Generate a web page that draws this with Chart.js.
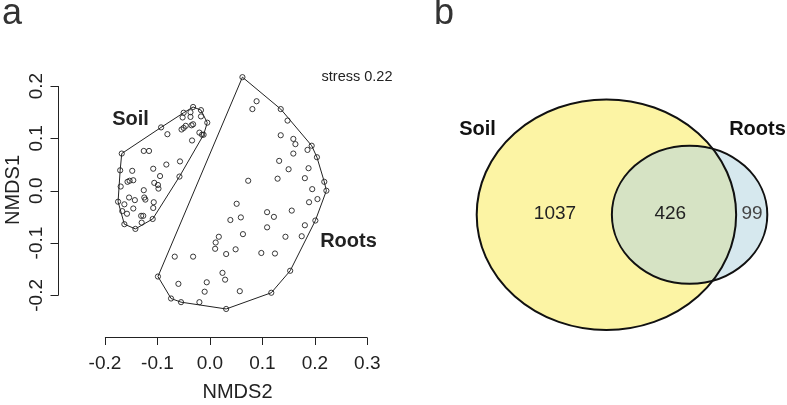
<!DOCTYPE html>
<html><head><meta charset="utf-8">
<script src="https://cdn.jsdelivr.net/npm/chart.js@4.4.1/dist/chart.umd.min.js"></script>
<style>
html,body{margin:0;padding:0;background:#fff;}
#wrap{position:relative;width:787px;height:405px;overflow:hidden;background:#fff;}
canvas{position:absolute;top:0;}
#ca{left:0;} #cb{left:430px;}
</style></head><body>
<div id="wrap"><canvas id="ca" width="430" height="405"></canvas><canvas id="cb" width="357" height="405"></canvas></div>
<script>
// ---- Panel a: NMDS ordination ----
const soilX = [-0.032,-0.050,-0.017,-0.037,-0.052,-0.037,-0.017,-0.005,-0.050,-0.046,-0.035,-0.032,-0.054,-0.020,-0.015,-0.012,-0.034,-0.081,-0.093,-0.126,-0.116,-0.168,-0.148,-0.171,-0.108,-0.083,-0.057,-0.058,-0.095,-0.106,-0.099,-0.098,-0.157,-0.153,-0.146,-0.170,-0.126,-0.125,-0.123,-0.154,-0.143,-0.175,-0.163,-0.146,-0.167,-0.158,-0.107,-0.108,-0.131,-0.127,-0.109,-0.130,-0.163,-0.142];
const soilY = [0.160,0.149,0.154,0.150,0.140,0.141,0.142,0.130,0.120,0.124,0.125,0.127,0.117,0.111,0.107,0.107,0.096,0.108,0.121,0.076,0.076,0.071,0.038,0.039,0.042,0.050,0.056,0.027,0.028,0.015,0.011,0.004,0.017,0.019,0.020,0.008,0.001,-0.013,-0.017,-0.013,-0.018,-0.021,-0.026,-0.034,-0.039,-0.044,-0.022,-0.033,-0.048,-0.048,-0.054,-0.061,-0.064,-0.073];
const rootsX = [0.062,0.089,0.081,0.135,0.148,0.135,0.159,0.163,0.194,0.186,0.159,0.204,0.132,0.150,0.188,0.073,0.129,0.181,0.218,0.222,0.195,0.205,0.189,0.051,0.156,0.109,0.122,0.059,0.039,0.201,0.181,0.109,0.063,0.144,0.175,0.017,0.011,0.010,0.049,0.031,0.098,0.124,-0.067,-0.032,0.153,-0.099,0.024,0.029,-0.060,-0.006,-0.010,0.057,0.117,-0.074,-0.055,-0.020,0.031];
const rootsY = [0.217,0.171,0.156,0.156,0.134,0.106,0.099,0.089,0.086,0.078,0.071,0.064,0.057,0.041,0.043,0.019,0.023,0.024,0.017,0.000,0.003,-0.016,-0.022,-0.025,-0.038,-0.041,-0.050,-0.051,-0.056,-0.057,-0.066,-0.070,-0.083,-0.088,-0.087,-0.088,-0.099,-0.111,-0.112,-0.121,-0.119,-0.120,-0.126,-0.126,-0.153,-0.164,-0.157,-0.170,-0.178,-0.175,-0.193,-0.192,-0.195,-0.206,-0.213,-0.213,-0.226];
const groupNames = ['Soil','Roots'];
const xTicks = [-0.2,-0.1,0.0,0.1,0.2,0.3];
const xTickLabels = ['-0.2','-0.1','0.0','0.1','0.2','0.3'];
const yTicks = [-0.2,-0.1,0.0,0.1,0.2];
const yTickLabels = ['-0.2','-0.1','0.0','0.1','0.2'];
const xTitle = 'NMDS2', yTitle = 'NMDS1';
const stressText = 'stress 0.22';

// ---- Panel b: Venn ----
const vennNames = ['Soil','Roots'];
const vennOnly = [1037, 99];
const vennShared = 426;

const FONT = '"Liberation Sans", Arial, Helvetica, sans-serif';
const INK = '#222';

function pts(xs, ys){ return xs.map((v,i)=>({x:v, y:ys[i]})); }
function hull(p){
  const s = p.slice().sort((a,b)=>a.x-b.x||a.y-b.y);
  const cr=(o,a,b)=>(a.x-o.x)*(b.y-o.y)-(a.y-o.y)*(b.x-o.x);
  const lo=[],up=[];
  for(const q of s){while(lo.length>=2&&cr(lo[lo.length-2],lo[lo.length-1],q)<=0)lo.pop();lo.push(q);}
  for(let i=s.length-1;i>=0;i--){const q=s[i];while(up.length>=2&&cr(up[up.length-2],up[up.length-1],q)<=0)up.pop();up.push(q);}
  up.pop(); lo.pop();
  const h=lo.concat(up); h.push(h[0]); return h;
}
const soilPts = pts(soilX, soilY), rootsPts = pts(rootsX, rootsY);

const pointStyle = {pointRadius:2.6, pointHoverRadius:2.6, pointBorderWidth:0.9, pointBorderColor:INK, pointBackgroundColor:'rgba(0,0,0,0)', showLine:false};
const hullStyle = {showLine:true, pointRadius:0, borderColor:INK, borderWidth:1, tension:0, fill:false};

const rAxes = {id:'rAxes', afterDraw(chart){
  const {ctx, chartArea:a, scales:{x,y}} = chart;
  ctx.save();
  ctx.strokeStyle = INK; ctx.fillStyle = INK; ctx.lineWidth = 1;
  const yb = Math.round(a.bottom)+0.5;
  ctx.beginPath();
  ctx.moveTo(x.getPixelForValue(xTicks[0]), yb); ctx.lineTo(x.getPixelForValue(xTicks[xTicks.length-1]), yb);
  xTicks.forEach(v=>{const p=Math.round(x.getPixelForValue(v))+0.5; ctx.moveTo(p,yb); ctx.lineTo(p,yb+7.5);});
  const xl = Math.round(a.left)+0.5;
  ctx.moveTo(xl, y.getPixelForValue(yTicks[0])); ctx.lineTo(xl, y.getPixelForValue(yTicks[yTicks.length-1]));
  yTicks.forEach(v=>{const p=Math.round(y.getPixelForValue(v))+0.5; ctx.moveTo(xl,p); ctx.lineTo(xl-8,p);});
  ctx.stroke();
  ctx.font = '19px '+FONT; ctx.textAlign='center'; ctx.textBaseline='alphabetic';
  xTicks.forEach((v,i)=>ctx.fillText(xTickLabels[i], x.getPixelForValue(v), a.bottom+32.7));
  yTicks.forEach((v,i)=>{ctx.save(); ctx.translate(a.left-16.5, y.getPixelForValue(v)); ctx.rotate(-Math.PI/2); ctx.fillText(yTickLabels[i],0,0); ctx.restore();});
  ctx.font = '20px '+FONT;
  ctx.fillText(xTitle, 237.5, 398);
  ctx.save(); ctx.translate(18.5, 190); ctx.rotate(-Math.PI/2); ctx.fillText(yTitle,0,0); ctx.restore();
  ctx.font = '14.5px '+FONT; ctx.textAlign='right';
  ctx.fillText(stressText, 392.5, 81);
  ctx.font = 'bold 20px '+FONT; ctx.textAlign='center';
  ctx.fillText(groupNames[0], 130.5, 124.5);
  ctx.fillText(groupNames[1], 348.5, 246.5);
  ctx.fillStyle = '#333'; ctx.font = '36px '+FONT; ctx.textAlign='left';
  ctx.fillText('a', 2, 23.5);
  ctx.restore();
}};

new Chart(document.getElementById('ca'), {
  type:'scatter',
  data:{datasets:[
    Object.assign({label:groupNames[0]+' hull', data:hull(soilPts)}, hullStyle),
    Object.assign({label:groupNames[1]+' hull', data:hull(rootsPts)}, hullStyle),
    Object.assign({label:groupNames[0], data:soilPts}, pointStyle),
    Object.assign({label:groupNames[1], data:rootsPts}, pointStyle)
  ]},
  options:{responsive:false, animation:false, devicePixelRatio:1,
    layout:{padding:{left:58.3, right:30, top:60, bottom:68.3}},
    plugins:{legend:{display:false}, tooltip:{enabled:false}},
    scales:{
      x:{type:'linear', display:false, min:-0.2889, max:0.3623},
      y:{type:'linear', display:false, min:-0.2790, max:0.2498}
    }
  },
  plugins:[rAxes]
});

// ---- Venn layout from counts (area-proportional) ----
const sizeA = vennOnly[0] + vennShared, sizeB = vennOnly[1] + vennShared;
const r1 = Math.sqrt(sizeA/Math.PI), r2 = Math.sqrt(sizeB/Math.PI);
function lens(d){
  if(d>=r1+r2) return 0;
  if(d<=Math.abs(r1-r2)) return Math.PI*Math.min(r1,r2)**2;
  const a1=Math.acos((d*d+r1*r1-r2*r2)/(2*d*r1)), a2=Math.acos((d*d+r2*r2-r1*r1)/(2*d*r2));
  return r1*r1*a1 + r2*r2*a2 - 0.5*Math.sqrt((-d+r1+r2)*(d+r1-r2)*(d-r1+r2)*(d+r1+r2));
}
let lo=Math.abs(r1-r2), hi=r1+r2;
for(let i=0;i<80;i++){const m=(lo+hi)/2; if(lens(m)>vennShared) lo=m; else hi=m;}
const dist=(lo+hi)/2;
// fit diagram box into panel
const boxL=46.7, boxR=337.3, boxT=99.4, boxB=330, W=357, H=405;
const kx=(boxR-boxL)/(r1+dist+r2), ky=(boxB-boxT)/(2*r1);
const vxMin=-r1-boxL/kx, vxMax=vxMin+W/kx, vyMax=r1+boxT/ky, vyMin=vyMax-H/ky;

const vennDraw = {id:'venn', beforeDatasetsDraw(chart){
  const {ctx, scales:{x,y}} = chart;
  const E = (cx, r)=>{const px=x.getPixelForValue(cx), py=y.getPixelForValue(0);
    return [px, py, x.getPixelForValue(cx+r)-px, py-y.getPixelForValue(r)];};
  const A=E(0,r1), B=E(dist,r2);
  const path=(e)=>{ctx.beginPath(); ctx.ellipse(e[0],e[1],e[2],e[3],0,0,Math.PI*2);};
  ctx.save();
  path(A); ctx.fillStyle='#FCF4A4'; ctx.fill();
  path(B); ctx.fillStyle='#D6E8EE'; ctx.fill();
  ctx.save(); path(A); ctx.clip(); path(B); ctx.fillStyle='#D6E3C4'; ctx.fill(); ctx.restore();
  ctx.lineWidth=2; ctx.strokeStyle='#111';
  path(A); ctx.stroke(); path(B); ctx.stroke();
  ctx.restore();
}, afterDraw(chart){
  const {ctx} = chart;
  ctx.save();
  ctx.textAlign='center'; ctx.textBaseline='alphabetic';
  ctx.font='19px '+FONT; ctx.fillStyle=INK;
  ctx.fillText(String(vennOnly[0]), 125, 219.3);
  ctx.fillText(String(vennShared), 240.3, 219.3);
  ctx.fillStyle='#444';
  ctx.fillText(String(vennOnly[1]), 322, 219.3);
  ctx.fillStyle='#111'; ctx.font='bold 20px '+FONT;
  ctx.fillText(vennNames[0], 47.5, 135);
  ctx.fillText(vennNames[1], 327.5, 135);
  ctx.fillStyle='#333'; ctx.font='36px '+FONT; ctx.textAlign='left';
  ctx.fillText('b', 4, 23.5);
  ctx.restore();
}};

new Chart(document.getElementById('cb'), {
  type:'scatter',
  data:{datasets:[{label:'set centres', data:[{x:0,y:0},{x:dist,y:0}], pointRadius:0, pointHoverRadius:0}]},
  options:{responsive:false, animation:false, devicePixelRatio:1,
    layout:{padding:0},
    plugins:{legend:{display:false}, tooltip:{enabled:false}},
    scales:{x:{type:'linear', display:false, min:vxMin, max:vxMax}, y:{type:'linear', display:false, min:vyMin, max:vyMax}}
  },
  plugins:[vennDraw]
});
</script>
</body></html>
